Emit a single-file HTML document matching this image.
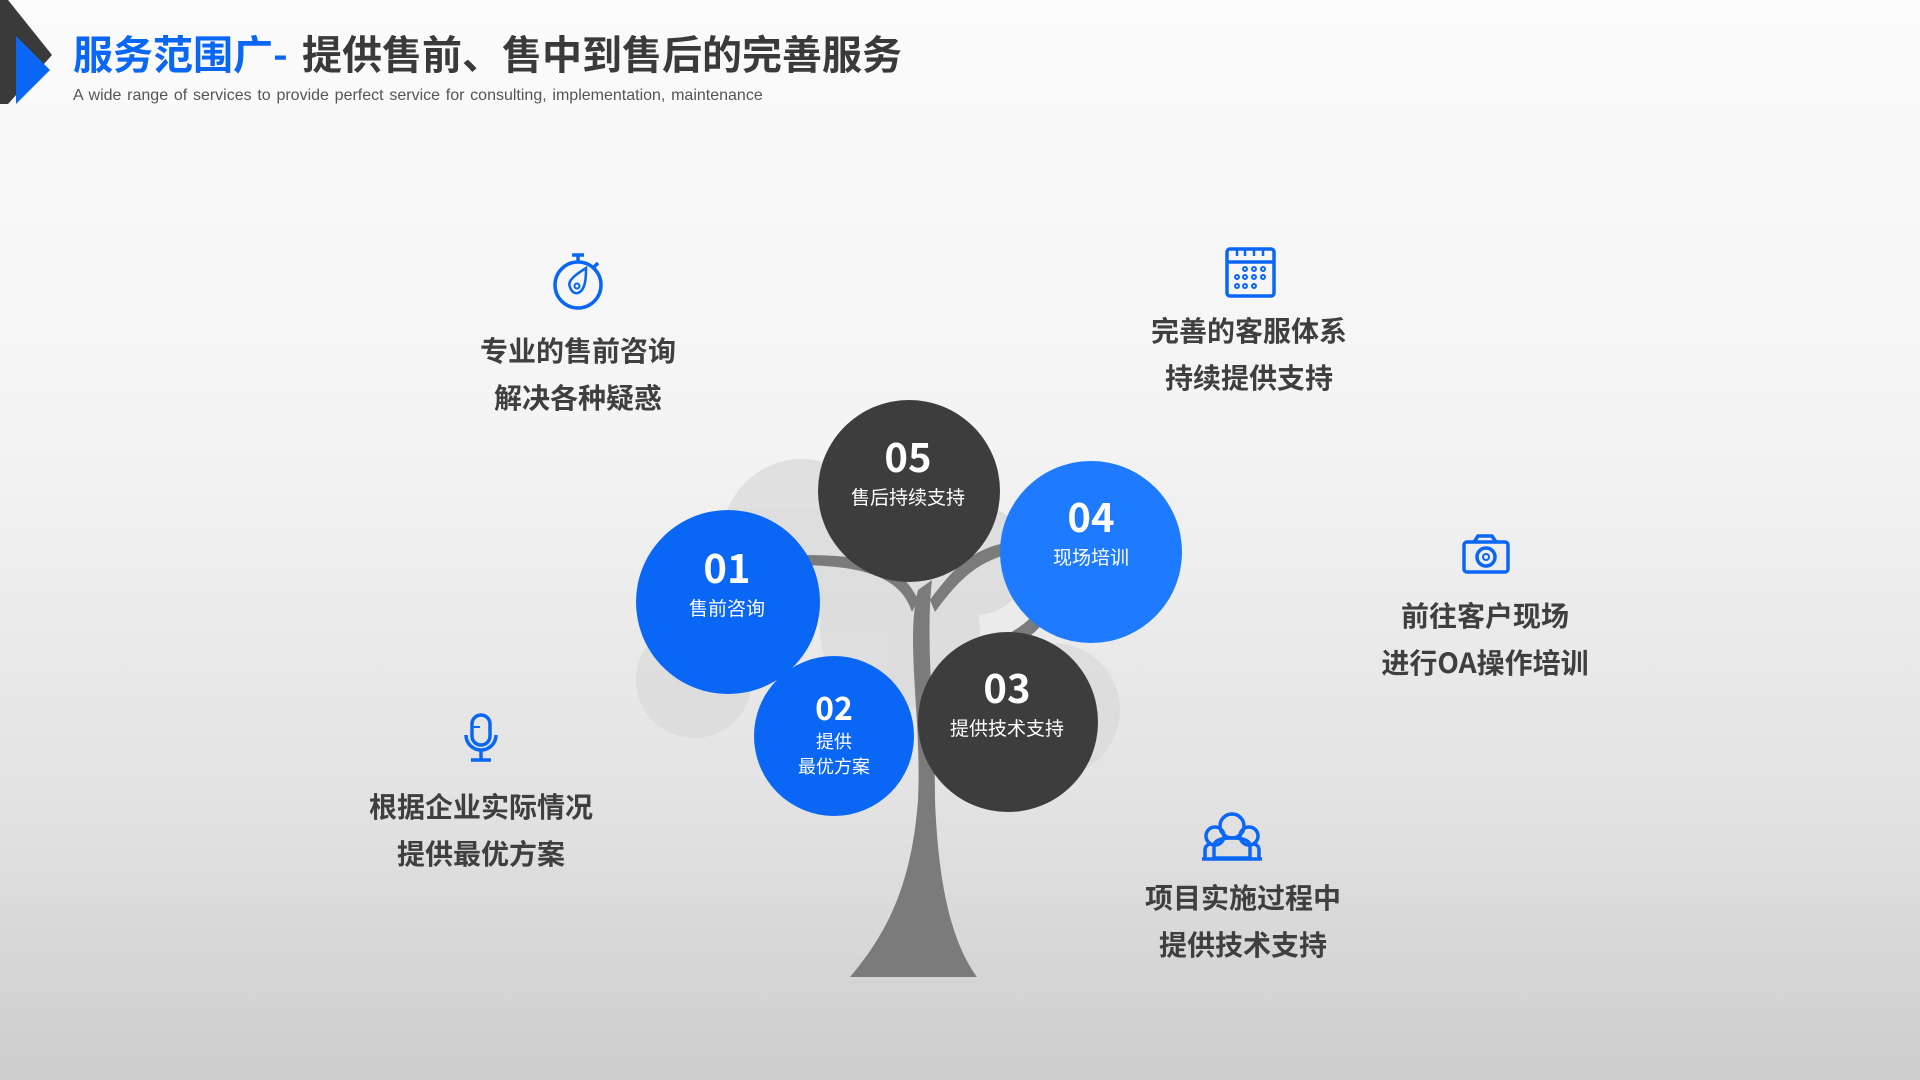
<!DOCTYPE html>
<html><head><meta charset="utf-8"><style>
html,body{margin:0;padding:0;}
body{width:1920px;height:1080px;overflow:hidden;background:linear-gradient(#fbfbfb 0%,#f4f4f4 40%,#e2e2e2 75%,#cdcdcd 100%);font-family:"Liberation Sans","Noto Sans CJK SC",sans-serif;position:relative;}
svg{position:absolute;left:0;top:0;}
.t{position:absolute;font-weight:bold;color:#3f3f3f;font-size:28px;line-height:47px;text-align:center;width:300px;font-family:"Noto Sans CJK SC",sans-serif;}
</style></head><body>
<svg width="1920" height="1080" viewBox="0 0 1920 1080">
<polygon points="0,0 8,0 52,55 8,104 0,104" fill="#3a3a3a"/>
<polygon points="16,36 50,70 16,104" fill="#0a66f5"/>
<text x="73" y="69" font-family="Noto Sans CJK SC,sans-serif" font-weight="bold" font-size="40" fill="#0a66f5">服务范围广-</text>
<text x="302" y="69" font-family="Noto Sans CJK SC,sans-serif" font-weight="bold" font-size="40" fill="#3a3a3a">提供售前、售中到售后的完善服务</text>
<text x="73" y="100" font-family="Liberation Sans,sans-serif" font-size="16" word-spacing="1.3" fill="#555">A wide range of services to provide perfect service  for consulting, implementation, maintenance</text>
<g fill="#d9d9d9" opacity="0.75">
<circle cx="802" cy="539" r="80"/><circle cx="694" cy="680" r="58"/><circle cx="900" cy="630" r="80"/>
<circle cx="975" cy="560" r="55"/><circle cx="1053" cy="710" r="67"/>
</g>
<path d="M850,977 C890,930 912,880 918,800 C922,720 905,640 918,590 L932,580 C925,640 935,720 935,800 C938,880 950,940 977,977 Z" fill="#7b7b7b"/>
<path d="M918,600 C900,560 860,555 800,555 L800,565 C860,566 900,575 912,612 Z" fill="#7b7b7b"/>
<path d="M930,600 C960,560 980,540 1040,540 L1040,550 C985,552 962,575 935,612 Z" fill="#7b7b7b"/>
<path d="M1000,640 C1020,625 1040,620 1040,590 L1045,600 C1050,625 1035,635 1005,650 Z" fill="#7b7b7b"/>
<circle cx="909" cy="491" r="91" fill="#3d3d3d"/>
<circle cx="1091" cy="552" r="91" fill="#1e7bff"/>
<circle cx="728" cy="602" r="92" fill="#0a66f5"/>
<circle cx="1008" cy="722" r="90" fill="#3d3d3d"/>
<circle cx="834" cy="736" r="80" fill="#0a66f5"/>
<g font-family="Noto Sans CJK SC,sans-serif" fill="#fff" text-anchor="middle">
<text x="908" y="472" font-size="40" font-weight="bold">05</text>
<text x="908" y="504" font-size="19">售后持续支持</text>
<text x="1091" y="532" font-size="40" font-weight="bold">04</text>
<text x="1091" y="564" font-size="19">现场培训</text>
<text x="727" y="583" font-size="40" font-weight="bold">01</text>
<text x="727" y="615" font-size="19">售前咨询</text>
<text x="1007" y="703" font-size="40" font-weight="bold">03</text>
<text x="1007" y="735" font-size="19">提供技术支持</text>
<text x="834" y="720" font-size="32" font-weight="bold">02</text>
<text x="834" y="748" font-size="18">提供</text>
<text x="834" y="773" font-size="18">最优方案</text>
</g>
<g fill="none" stroke="#0a66f5" stroke-width="3.5">
<circle cx="578" cy="285" r="23"/>
<line x1="578" y1="262" x2="578" y2="256"/><line x1="572" y1="255" x2="584" y2="255"/>
<line x1="594" y1="267" x2="598" y2="263"/>
<path d="M570,287 C566,280 580,272 586,268 C586,276 586,290 578,293 C574,294 571,291 570,287 Z" stroke-width="2.5"/>
<circle cx="577" cy="286" r="2.5" stroke-width="2"/>
<rect x="1227" y="249" width="47" height="47" rx="3"/>
<line x1="1227" y1="262" x2="1274" y2="262"/>
<path d="M1237,249v7M1245,249v7M1254,249v7M1263,249v7" stroke-width="2.5"/>
<g stroke-width="2"><circle cx="1245" cy="269" r="2"/><circle cx="1254" cy="269" r="2"/><circle cx="1263" cy="269" r="2"/><circle cx="1237" cy="277" r="2"/><circle cx="1245" cy="277" r="2"/><circle cx="1254" cy="277" r="2"/><circle cx="1263" cy="277" r="2"/><circle cx="1237" cy="286" r="2"/><circle cx="1245" cy="286" r="2"/><circle cx="1254" cy="286" r="2"/></g>
<rect x="1464" y="542" width="44" height="30" rx="3"/>
<path d="M1474,542 l4,-6 h14 l4,6"/>
<circle cx="1486" cy="557" r="9"/><circle cx="1486" cy="557" r="3" stroke-width="2"/>
<rect x="472" y="715" width="18" height="30" rx="9"/>
<path d="M466,735 a15,15 0 0 0 30,0"/><line x1="481" y1="750" x2="481" y2="759"/><line x1="471" y1="760" x2="491" y2="760"/>
<line x1="472" y1="727" x2="480" y2="727" stroke-width="2"/>
<circle cx="1232" cy="826" r="12"/><circle cx="1215" cy="836" r="9"/><circle cx="1249" cy="836" r="9"/>
<path d="M1214,858 v-12 c0,-6 8,-8 18,-8 c10,0 18,2 18,8 v12 z"/>
<path d="M1205,858 v-8 c0,-4 3,-6 6,-6 M1259,858 v-8 c0,-4 -3,-6 -6,-6"/>
<line x1="1202" y1="859" x2="1262" y2="859"/>
</g>
</svg>
<div class="t" style="left:428px;top:327px;">专业的售前咨询<br>解决各种疑惑</div>
<div class="t" style="left:1099px;top:307px;">完善的客服体系<br>持续提供支持</div>
<div class="t" style="left:1335px;top:592px;">前往客户现场<br>进行OA操作培训</div>
<div class="t" style="left:331px;top:783px;">根据企业实际情况<br>提供最优方案</div>
<div class="t" style="left:1093px;top:874px;">项目实施过程中<br>提供技术支持</div>
</body></html>
